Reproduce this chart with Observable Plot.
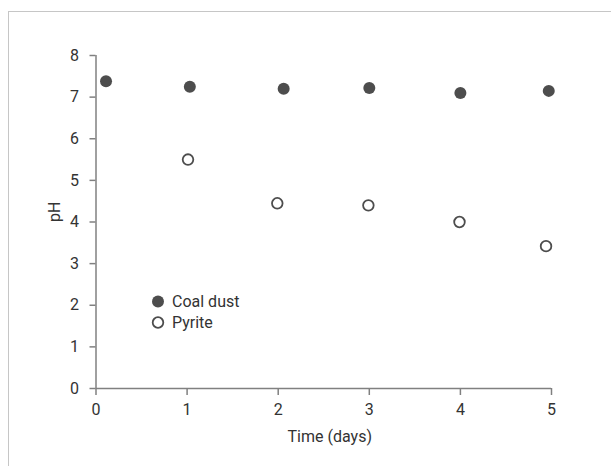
<!DOCTYPE html>
<html><head><meta charset="utf-8">
<script src="https://cdn.jsdelivr.net/npm/d3@7"></script>
<script src="https://cdn.jsdelivr.net/npm/@observablehq/plot@0.6"></script>
<style>
html,body{margin:0;padding:0;background:#fff;}
#wrap{position:relative;width:611px;height:466px;overflow:hidden;font-family:Roboto,"Liberation Sans",sans-serif;}
#frame{position:absolute;left:8px;top:10.5px;right:-4px;bottom:-4px;border-top:1.5px solid #c6c6c6;border-left:1.5px solid #c6c6c6;}
#chart{position:absolute;left:0;top:0;}
#legend{position:absolute;left:151px;top:291px;font-size:16px;color:#333;}
#legend .row{display:flex;align-items:center;height:21px;}
#legend svg{margin-right:7px;}
</style></head>
<body><div id="wrap"><div id="frame"></div><div id="chart"></div><div id="legend"></div></div>
<script>
// Data
const xTicks = [0, 1, 2, 3, 4, 5];
const yTicks = [0, 1, 2, 3, 4, 5, 6, 7, 8];
const seriesNames = ["Coal dust", "Pyrite"];
const coalDays = [0.11, 1.03, 2.06, 3.0, 4.0, 4.97];
const coalPH = [7.38, 7.25, 7.2, 7.22, 7.1, 7.15];
const pyriteDays = [1.01, 1.99, 2.99, 3.99, 4.94];
const pyritePH = [5.5, 4.45, 4.4, 4.0, 3.42];
const xLabel = "Time (days)";
const yLabel = "pH";

const ink = "#4d4d4d";
const axisGray = "#808080";
const font = 'Roboto,"Liberation Sans",sans-serif';

const coal = coalDays.map((d, i) => ({day: d, ph: coalPH[i]}));
const pyrite = pyriteDays.map((d, i) => ({day: d, ph: pyritePH[i]}));

const chart = Plot.plot({
  width: 611,
  height: 466,
  marginLeft: 95.5,
  marginRight: 60,
  marginTop: 55,
  marginBottom: 78,
  style: {fontFamily: font, fontSize: "16px", color: "#333", background: "transparent", overflow: "visible"},
  x: {domain: [0, 5]},
  y: {domain: [0, 8]},
  marks: [
    Plot.axisX({ticks: xTicks, tickFormat: d => String(d), tickSize: 7, tickPadding: 8, label: null, stroke: axisGray, strokeWidth: 1.5, fill: "#333", fontSize: 16}),
    Plot.axisY({ticks: yTicks, tickFormat: d => String(d), tickSize: 6, tickPadding: 11, label: null, stroke: axisGray, strokeWidth: 1.5, fill: "#333", fontSize: 16}),
    Plot.ruleX([0], {stroke: axisGray, strokeWidth: 1.5}),
    Plot.ruleY([0], {stroke: axisGray, strokeWidth: 1.5}),
    Plot.text([xLabel], {frameAnchor: "bottom", dy: 48, dx: 6, lineAnchor: "middle", fill: "#333", fontSize: 16}),
    Plot.text([yLabel], {frameAnchor: "left", rotate: -90, dx: -41, fill: "#333", fontSize: 16}),
    Plot.dot(coal, {x: "day", y: "ph", r: 6, fill: ink, stroke: "none"}),
    Plot.dot(pyrite, {x: "day", y: "ph", r: 5.3, fill: "white", stroke: ink, strokeWidth: 1.8})
  ]
});
document.getElementById("chart").appendChild(chart);

// Legend
const legend = document.getElementById("legend");
seriesNames.forEach((name, i) => {
  const row = document.createElement("div");
  row.className = "row";
  const filled = i === 0;
  row.innerHTML = `<svg width="14" height="21"><circle cx="7" cy="10.5" r="${filled ? 6 : 5.3}" fill="${filled ? ink : "white"}" stroke="${filled ? "none" : ink}" stroke-width="1.8"></circle></svg><span>${name}</span>`;
  legend.appendChild(row);
});
</script>
</body></html>
